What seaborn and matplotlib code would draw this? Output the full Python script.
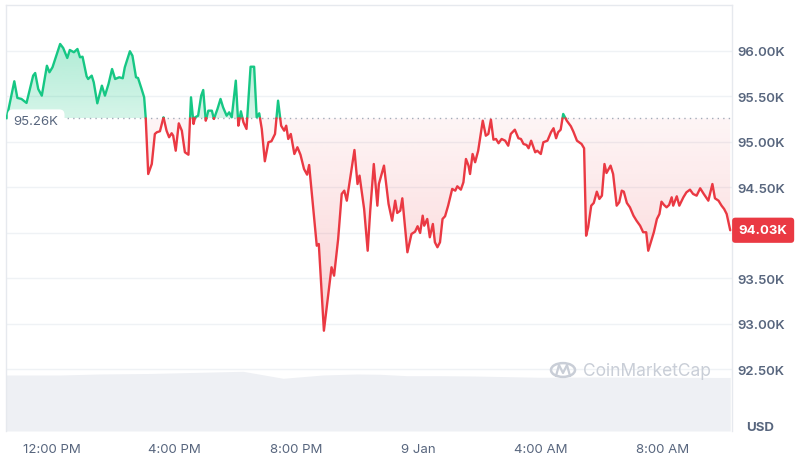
import numpy as np
import pandas as pd
import matplotlib
matplotlib.use("Agg")
import matplotlib.pyplot as plt
import matplotlib.colors as mcolors
import seaborn as sns
from matplotlib.path import Path
from matplotlib.patches import PathPatch, Circle
from matplotlib.lines import Line2D

# ---------------- data ----------------
# time in minutes since 00:00 on 8 Jan, price in thousands of USD
time_min = [631, 646, 652, 660, 670, 683, 687, 693, 700, 710, 715, 721, 736, 742, 750, 755, 763, 770, 775, 780,
            788, 791, 798, 802, 809, 818, 824, 831, 838, 844, 852, 859, 863, 873, 878, 885, 889, 896, 901, 904,
            909, 916, 922, 926, 932, 939, 945, 950, 955, 958, 963, 969, 975, 981, 988, 993, 998, 1001, 1007, 1013,
            1017, 1022, 1027, 1034, 1038, 1045, 1051, 1056, 1063, 1068, 1073, 1081, 1086, 1091, 1096, 1102, 1110, 1117, 1122, 1127,
            1132, 1138, 1145, 1151, 1158, 1164, 1170, 1176, 1180, 1184, 1189, 1196, 1202, 1208, 1215, 1221, 1225, 1240, 1244, 1254,
            1269, 1274, 1282, 1289, 1294, 1299, 1314, 1320, 1324, 1333, 1340, 1345, 1352, 1359, 1362, 1372, 1381, 1388, 1394, 1398,
            1404, 1408, 1418, 1426, 1433, 1438, 1443, 1448, 1451, 1457, 1462, 1468, 1472, 1477, 1482, 1487, 1492, 1498, 1506, 1512,
            1516, 1523, 1528, 1533, 1538, 1541, 1546, 1551, 1557, 1566, 1572, 1577, 1582, 1587, 1592, 1597, 1603, 1610, 1616, 1621,
            1629, 1636, 1641, 1646, 1652, 1656, 1661, 1669, 1673, 1680, 1685, 1693, 1700, 1705, 1710, 1714, 1719, 1724, 1731, 1739,
            1744, 1751, 1760, 1765, 1769, 1773, 1779, 1784, 1790, 1795, 1800, 1805, 1809, 1817, 1822, 1829, 1834, 1839, 1843, 1849,
            1855, 1862, 1868, 1875, 1881, 1887, 1891, 1898, 1902, 1908, 1913, 1917, 1922, 1927, 1932, 1937, 1940, 1947, 1952, 1960,
            1966, 1973, 1979, 1986, 1993, 2000, 2009, 2017, 2022, 2029, 2035, 2040, 2045, 2052]
price_k = [95.260, 95.667, 95.484, 95.473, 95.429, 95.729, 95.758, 95.582, 95.509, 95.838, 95.766, 95.821, 96.077, 96.033, 95.923, 96.011, 95.986, 96.022, 95.931, 95.937,
           95.722, 95.692, 95.729, 95.656, 95.425, 95.619, 95.509, 95.637, 95.802, 95.692, 95.711, 95.700, 95.821, 95.997, 95.948, 95.711, 95.703, 95.582, 95.491, 95.271,
           94.648, 94.758, 95.088, 95.107, 95.118, 95.271, 95.124, 95.052, 95.096, 95.069, 94.904, 95.205, 95.124, 94.887, 94.860, 95.491, 95.198, 95.271, 95.289, 95.509,
           95.571, 95.234, 95.344, 95.344, 95.253, 95.363, 95.473, 95.381, 95.289, 95.326, 95.271, 95.674, 95.179, 95.337, 95.216, 95.143, 95.827, 95.827, 95.271, 95.315,
           95.143, 94.788, 94.997, 95.008, 95.088, 95.454, 95.179, 95.124, 95.179, 95.033, 95.088, 94.868, 94.942, 94.860, 94.703, 94.641, 94.747, 93.860, 93.879, 92.926,
           93.623, 93.531, 93.934, 94.429, 94.465, 94.355, 94.912, 94.538, 94.630, 94.264, 93.805, 94.245, 94.758, 94.300, 94.538, 94.740, 94.319, 94.135, 94.355, 94.220,
           94.245, 94.381, 93.788, 93.989, 94.014, 94.074, 94.000, 94.190, 94.080, 94.154, 93.953, 94.099, 93.898, 93.843, 93.898, 94.154, 94.184, 94.300, 94.484, 94.465,
           94.513, 94.476, 94.557, 94.813, 94.740, 94.648, 94.868, 94.777, 94.904, 95.234, 95.069, 95.088, 95.245, 95.025, 95.033, 94.986, 95.033, 95.014, 94.959, 95.088,
           95.135, 95.041, 95.033, 94.978, 94.967, 94.931, 95.014, 94.887, 94.904, 94.868, 94.997, 95.014, 95.107, 95.151, 95.041, 95.107, 95.135, 95.308, 95.234, 95.173,
           95.113, 95.014, 94.978, 94.931, 93.970, 94.063, 94.300, 94.330, 94.454, 94.374, 94.410, 94.758, 94.659, 94.740, 94.648, 94.300, 94.337, 94.465, 94.454, 94.330,
           94.282, 94.190, 94.135, 94.080, 94.008, 94.008, 93.805, 93.934, 94.008, 94.154, 94.209, 94.344, 94.308, 94.282, 94.308, 94.392, 94.300, 94.403, 94.300, 94.392,
           94.447, 94.476, 94.429, 94.410, 94.491, 94.429, 94.355, 94.538, 94.381, 94.355, 94.300, 94.264, 94.209, 94.030]

vol_time = [630, 736, 814, 912, 1011, 1095, 1174, 1252, 1319, 1364, 1417, 1482, 1547, 1678, 1796, 1914, 2052]
vol_b = [5.60, 5.60, 5.70, 5.75, 5.87, 5.97, 5.27, 5.60, 5.70, 5.67, 5.53, 5.53, 5.50, 5.37, 5.40, 5.37, 5.35]

open_price = 95.26
last_price = 94.03
y_ticks = [92.5, 93.0, 93.5, 94.0, 94.5, 95.0, 95.5, 96.0]
# the 94.00K label sits under the last-price tag in the reference
y_tick_labels = ["92.50K", "93.00K", "93.50K", "", "94.50K", "95.00K", "95.50K", "96.00K"]
x_ticks = [720, 960, 1200, 1440, 1680, 1920]
x_tick_labels = ["12:00 PM", "4:00 PM", "8:00 PM", "9 Jan", "4:00 AM", "8:00 AM"]

GREEN = "#16c784"
RED = "#ea3943"
TXT = "#58667e"

# ---------------- style ----------------
sns.set_theme(style="white")
plt.rcParams["font.family"] = ["Inter", "DejaVu Sans"]

fig = plt.figure(figsize=(8, 4.6), dpi=100, facecolor="white")
rect = [0.00713, 0.0609, 0.9075, 0.926]
XMIN, XMAX = 629.1, 2054.9
YMIN, YMAX = 91.824, 96.505

# volume axis (behind)
vax = fig.add_axes(rect, zorder=0)
vax.fill_between(vol_time, vol_b, 0, color="#eef0f4", lw=0)
vax.set_xlim(XMIN, XMAX)
vax.set_ylim(0, 42.6)
vax.axis("off")

ax = fig.add_axes(rect, zorder=1)
ax.patch.set_visible(False)

t = np.array(time_min, dtype=float)
p = np.array(price_k, dtype=float)
base = open_price

# split the line into segments above / below the opening price
rows = []
seg = 0
side = "up" if p[1] >= base else "down"
cur = [(t[0], p[0])]
for i in range(len(p) - 1):
    t0, p0, t1, p1 = t[i], p[i], t[i + 1], p[i + 1]
    s1 = "up" if p1 > base else ("down" if p1 < base else side)
    if s1 != side:
        tc = t0 if p1 == p0 else t0 + (base - p0) / (p1 - p0) * (t1 - t0)
        cur.append((tc, base))
        rows += [(a, b, side, seg) for a, b in cur]
        seg += 1
        cur = [(tc, base)]
        side = s1
    cur.append((t1, p1))
rows += [(a, b, side, seg) for a, b in cur]
df = pd.DataFrame(rows, columns=["t", "p", "side", "seg"])


def grad_fill(where, color, lo, hi, a_lo, a_hi):
    coll = ax.fill_between(t, p, base, where=where, interpolate=True,
                           facecolor="none", edgecolor="none", lw=0)
    comp = Path.make_compound_path(*coll.get_paths())
    n = 256
    img = np.zeros((n, 1, 4))
    img[..., :3] = mcolors.to_rgb(color)
    img[:, 0, 3] = np.linspace(a_lo, a_hi, n)
    im = ax.imshow(img, extent=[XMIN, XMAX, lo, hi], origin="lower",
                   aspect="auto", zorder=1, interpolation="bilinear")
    im.set_clip_path(PathPatch(comp, transform=ax.transData))


grad_fill(p >= base, GREEN, base, YMAX, 0.18, 0.42)
grad_fill(p <= base, RED, YMIN, base, 0.32, 0.05)

# dotted baseline
ax.axhline(base, color="#a3abb8", lw=1.0, ls=(0, (1, 3)), zorder=2)

sns.lineplot(data=df, x="t", y="p", hue="side", units="seg", estimator=None,
             palette={"up": GREEN, "down": RED}, linewidth=1.7, legend=False,
             sort=False, ax=ax, zorder=3)

ax.set_xlim(XMIN, XMAX)
ax.set_ylim(YMIN, YMAX)
ax.set_xlabel("")
ax.set_ylabel("")

# grid
for yv in y_ticks:
    ax.axhline(yv, color="#eff2f5", lw=1.0, zorder=0.5)
ax.grid(False)

ax.yaxis.tick_right()
ax.set_yticks(y_ticks)
ax.set_yticklabels(y_tick_labels)
ax.set_xticks(x_ticks)
ax.set_xticklabels(x_tick_labels)
ax.tick_params(axis="y", length=0, pad=4, labelcolor=TXT, labelsize=9.5)
ax.tick_params(axis="x", length=0, pad=9, labelcolor=TXT, labelsize=9.5)
for lab in ax.get_yticklabels():
    lab.set_fontweight("semibold")

for s in ["left", "right", "top"]:
    ax.spines[s].set_color("#e6e9ee")
    ax.spines[s].set_linewidth(1.0)
ax.spines["bottom"].set_visible(False)

# labels for opening and last price
ax.annotate(f"{open_price:.2f}K", xy=(0, base), xycoords=("axes fraction", "data"),
            xytext=(8, -3), textcoords="offset pixels", ha="left", va="center",
            fontsize=9.5, color=TXT, zorder=10,
            bbox=dict(boxstyle="round,pad=0.45,rounding_size=0.4", fc="white", ec="none"))
ax.annotate(f"{last_price:.2f}K", xy=(1, last_price), xycoords=("axes fraction", "data"),
            xytext=(7, 0), textcoords="offset pixels", ha="left", va="center",
            fontsize=9.5, color="white", fontweight="bold", zorder=10, annotation_clip=False,
            bbox=dict(boxstyle="round,pad=0.5,rounding_size=0.25", fc=RED, ec="none"))

fig.text(760 / 800, 1 - 428 / 460, "USD", ha="center", va="center",
         fontsize=9.5, fontweight="bold", color=TXT)

# watermark
wm = "#c9ced7"
fig.text(647 / 800, 1 - 372 / 460, "CoinMarketCap", ha="center", va="center",
         fontsize=12.5, color=wm, zorder=5)
circ = Circle((563 / 800, 1 - 371 / 460), 12 / 800, transform=fig.transFigure,
              fill=False, ec=wm, lw=1.8, zorder=5)
fig.add_artist(circ)
fig.add_artist(Line2D([556 / 800, 559 / 800, 563 / 800, 567 / 800, 570 / 800],
                      [1 - 377 / 460, 1 - 366 / 460, 1 - 374 / 460, 1 - 366 / 460, 1 - 377 / 460],
                      transform=fig.transFigure, color=wm, lw=1.6, zorder=5))

fig.savefig("out.png", dpi=100, facecolor="white")
